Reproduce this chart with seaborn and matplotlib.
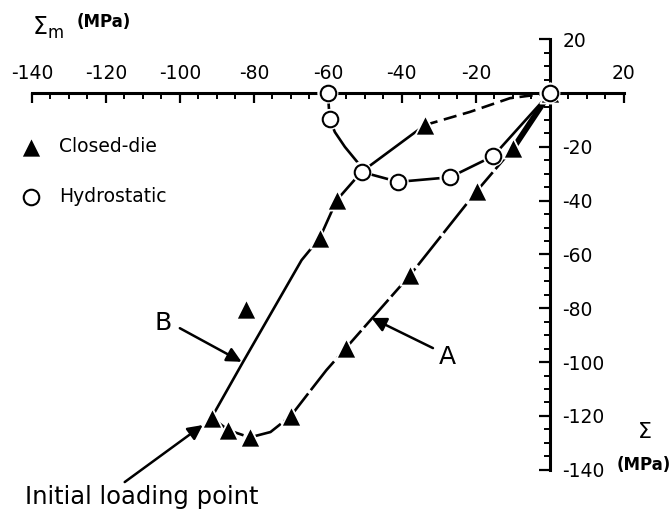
import numpy as np
import pandas as pd
import matplotlib
matplotlib.use("Agg")
import matplotlib.pyplot as plt
import seaborn as sns

# ---------------- data ----------------
closed_x = [0.0, -9.9, -19.8, -37.8, -55.2, -70.0, -81.1, -86.9, -91.4, -82.0, -62.2, -57.6, -33.8]
closed_y = [0.0, -20.5, -36.5, -67.7, -94.9, -120.0, -128.0, -125.3, -120.6, -80.4, -53.9, -39.8, -11.9]

hydro_x = [-60.0, -59.5, -50.9, -41.0, -27.0, -15.3, 0.0]
hydro_y = [0.0, -9.8, -29.3, -33.0, -31.3, -23.4, 0.0]

# curve A (unloading branch, long dashes)
curveA_x = [-91.4, -86.9, -81.1, -75.5, -70.0, -65.5, -60.4, -55.2, -37.8, -19.8, -9.9]
curveA_y = [-120.6, -125.3, -128.0, -126.0, -120.0, -112.0, -103.0, -94.9, -67.7, -36.5, -20.5]
# heavy end of curve A into the origin
curveA_end_x = [-9.9, 0.0]
curveA_end_y = [-20.5, 0.0]

# curve B (solid part)
curveB_x = [-91.4, -82.9, -67.1, -62.2, -57.6, -50.9, -33.8]
curveB_y = [-120.6, -99.9, -62.1, -53.9, -39.8, -29.3, -11.9]
# curve B (dashed tail)
curveB_tail_x = [-33.8, -21.6, -10.8, 0.0]
curveB_tail_y = [-11.9, -7.0, -1.9, 0.0]

# hydrostatic curve
curveH_x = [-60.0, -59.5, -58.1, -55.4, -52.0, -50.9, -41.0, -27.0, -15.3, 0.0]
curveH_y = [0.0, -9.8, -14.5, -20.0, -25.7, -29.3, -33.0, -31.3, -23.4, 0.0]

x_ticks = [-140, -120, -100, -80, -60, -40, -20, 0, 20]
x_ticklabels = ["-140", "-120", "-100", "-80", "-60", "-40", "-20", "", "20"]
y_ticks = [20, 0, -20, -40, -60, -80, -100, -120, -140]
y_ticklabels = ["20", "", "-20", "-40", "-60", "-80", "-100", "-120", "-140"]

# ---------------- style ----------------
sns.set_theme(style="white")
plt.rcParams["font.family"] = ["DejaVu Sans"]
plt.rcParams["axes.unicode_minus"] = False
plt.rcParams["text.color"] = "black"
plt.rcParams["axes.labelcolor"] = "black"
plt.rcParams["xtick.color"] = "black"
plt.rcParams["ytick.color"] = "black"

fig = plt.figure(figsize=(6.72, 5.13), dpi=100)
ax = fig.add_axes([0, 0, 1, 1])
ax.set_xlim(-148.6, 33.0)
ax.set_ylim(-156.1, 34.6)

LW = 1.9
K = "black"

def df(x, y):
    return pd.DataFrame({"x": x, "y": y})

sns.lineplot(data=df(curveA_x, curveA_y), x="x", y="y", sort=False, estimator=None,
             color=K, lw=LW, ax=ax, zorder=2)
ax.lines[-1].set_linestyle((0, (14, 1.6)))
sns.lineplot(data=df(curveA_end_x, curveA_end_y), x="x", y="y", sort=False, estimator=None,
             color=K, lw=4.2, ax=ax, zorder=2)
sns.lineplot(data=df(curveB_x, curveB_y), x="x", y="y", sort=False, estimator=None,
             color=K, lw=LW, ax=ax, zorder=2)
sns.lineplot(data=df(curveB_tail_x, curveB_tail_y), x="x", y="y", sort=False, estimator=None,
             color=K, lw=LW, ax=ax, zorder=2)
ax.lines[-1].set_linestyle((0, (5, 2.5)))
sns.lineplot(data=df(curveH_x, curveH_y), x="x", y="y", sort=False, estimator=None,
             color=K, lw=LW, ax=ax, zorder=2)

# markers (white halo to break the lines around them)
sns.scatterplot(data=df(closed_x, closed_y), x="x", y="y", marker="^", s=210,
                color=K, edgecolor="white", linewidth=1.3, ax=ax, zorder=4,
                label="Closed-die")
sns.scatterplot(data=df(hydro_x, hydro_y), x="x", y="y", marker="o", s=230,
                color="white", edgecolor="none", linewidth=0, ax=ax, zorder=5)
sns.scatterplot(data=df(hydro_x, hydro_y), x="x", y="y", marker="o", s=125,
                color="white", edgecolor=K, linewidth=1.5, ax=ax, zorder=6,
                label="Hydrostatic")

# ---------------- axes through the origin ----------------
for s in ["bottom", "left"]:
    ax.spines[s].set_visible(False)
ax.spines["top"].set_position(("data", 0))
ax.spines["right"].set_position(("data", 0))
ax.spines["top"].set_bounds(-140, 20)
ax.spines["right"].set_bounds(-140, 20)
for s in ["top", "right"]:
    ax.spines[s].set_linewidth(2.2)
    ax.spines[s].set_color(K)
    ax.spines[s].set_zorder(3)
ax.xaxis.set_ticks_position("top")
ax.yaxis.set_ticks_position("right")
ax.set_xticks(x_ticks)
ax.set_xticklabels(x_ticklabels)
ax.set_xticks(np.arange(-140, 21, 5), minor=True)
ax.set_yticks(y_ticks)
ax.set_yticklabels(y_ticklabels)
ax.set_yticks(np.arange(-140, 21, 5), minor=True)
ax.tick_params(axis="x", which="major", direction="in", length=7, width=1.6,
               color=K, labelsize=13.5, pad=7, labelcolor=K)
ax.tick_params(axis="x", which="minor", direction="in", length=4, width=1.4, color=K)
ax.tick_params(axis="y", which="major", direction="in", length=8, width=1.6,
               color=K, labelsize=13.5, pad=9, labelcolor=K)
ax.tick_params(axis="y", which="minor", direction="in", length=4.5, width=1.4, color=K)
ax.set_xlabel("")
ax.set_ylabel("")
ax.grid(False)

# ---------------- legend ----------------
h, l = ax.get_legend_handles_labels()
leg = ax.legend(h, l, loc="upper left", bbox_to_anchor=(20 / 672, 1 - 137 / 513),
                bbox_transform=fig.transFigure, frameon=False, fontsize=13.5,
                handlelength=1.2, handletextpad=0.9, labelspacing=1.65,
                borderpad=0, borderaxespad=0)
for t in leg.get_texts():
    t.set_color(K)

# ---------------- labels and arrows ----------------
ax.text(-139.9, 24.2, r"$\Sigma_{\mathrm{m}}$", fontsize=17, ha="left", va="center",
        color=K)
ax.text(-128.0, 26.5, "(MPa)", fontsize=12, ha="left", va="center", color=K,
        fontweight="bold")
ax.text(25.4, -126, r"$\Sigma$", fontsize=16, ha="center", va="center", color=K)
ax.text(25.4, -138.3, "(MPa)", fontsize=12, ha="center", va="center", color=K,
        fontweight="bold")

arrow = dict(arrowstyle="-|>", color=K, lw=1.8, mutation_scale=22, shrinkA=0, shrinkB=0)
ax.text(-104.6, -85.5, "B", fontsize=18, ha="center", va="center", color=K)
ax.annotate("", xy=(-83.3, -99.9), xytext=(-100.0, -87.4), arrowprops=arrow)
ax.text(-27.6, -98.1, "A", fontsize=18, ha="center", va="center", color=K)
ax.annotate("", xy=(-48.2, -83.6), xytext=(-31.6, -94.8), arrowprops=arrow)
ax.text(-141.9, -150.2, "Initial loading point", fontsize=17.5, ha="left", va="center",
        color=K)
ax.annotate("", xy=(-93.8, -123.4), xytext=(-114.9, -144.6), arrowprops=arrow)

fig.savefig("out.png", dpi=100)
